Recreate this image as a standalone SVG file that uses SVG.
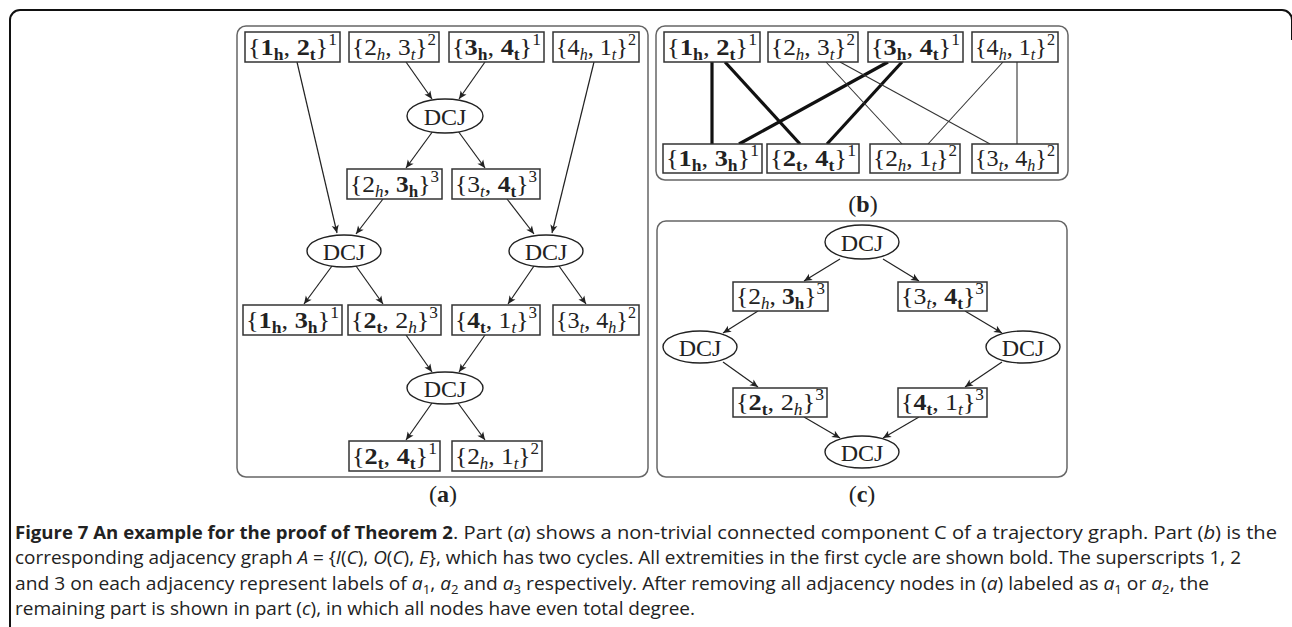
<svg xmlns="http://www.w3.org/2000/svg" width="1292" height="627" viewBox="0 0 1292 627">
<defs>
<style>
.frame{fill:none;stroke:#111;stroke-width:2}
.panel{fill:none;stroke:#666;stroke-width:1.5}
.box{fill:#fff;stroke:#333;stroke-width:1.5}
.ell{fill:#fff;stroke:#222;stroke-width:1.4}
.m{font-family:"Liberation Serif","DejaVu Serif",serif;font-size:24px;fill:#222}
.bd{font-weight:bold}
.sb{font-size:16px}
.si{font-size:16px;font-style:italic}
.sp{font-size:16px}
.e{stroke:#222;stroke-width:1.2;fill:none;marker-end:url(#arr)}
.thick{stroke:#111;stroke-width:3.2;fill:none}
.thin{stroke:#333;stroke-width:1.1;fill:none}
.cap{font-family:"Open Sans","Noto Sans","Liberation Sans",sans-serif;font-size:17.5px;fill:#222}
.lab{font-family:"Liberation Serif","DejaVu Serif",serif;font-size:24px;fill:#222}
</style>
<marker id="arr" markerUnits="userSpaceOnUse" markerWidth="12" markerHeight="10" refX="0" refY="0" viewBox="-10 -5 12 10" orient="auto">
<path d="M0,0 L-8,-3.6 L-6,0 L-8,3.6 Z" fill="#222"/>
</marker>
</defs>

<path class="frame" d="M10,627 V20 A10,10 0 0 1 20,10 H1282 A10,10 0 0 1 1292,20 V40"/>

<g id="panels">
<rect class="panel" x="237" y="26" width="411" height="451" rx="9"/>
<rect class="panel" x="656" y="26" width="412" height="154" rx="9"/>
<rect class="panel" x="657" y="221" width="410" height="256" rx="9"/>
<text class="lab" x="443" y="502" text-anchor="middle">(<tspan class="bd">a</tspan>)</text>
<text class="lab" x="863" y="212" text-anchor="middle">(<tspan class="bd">b</tspan>)</text>
<text class="lab" x="862" y="502" text-anchor="middle">(<tspan class="bd">c</tspan>)</text>
</g>

<g id="connectors">
<!-- panel a -->
<line class="e" x1="297" y1="62" x2="337" y2="233"/>
<line class="e" x1="406" y1="62" x2="432" y2="99"/>
<line class="e" x1="485" y1="62" x2="459" y2="99"/>
<line class="e" x1="594" y1="62" x2="552" y2="233"/>
<line class="e" x1="433" y1="131" x2="406" y2="168"/>
<line class="e" x1="458" y1="131" x2="485" y2="168"/>
<line class="e" x1="383" y1="199" x2="356" y2="234"/>
<line class="e" x1="507" y1="199" x2="534" y2="234"/>
<line class="e" x1="332" y1="266" x2="304" y2="304"/>
<line class="e" x1="356" y1="266" x2="383" y2="304"/>
<line class="e" x1="534" y1="266" x2="508" y2="304"/>
<line class="e" x1="559" y1="266" x2="586" y2="304"/>
<line class="e" x1="406" y1="335" x2="432" y2="372"/>
<line class="e" x1="485" y1="335" x2="459" y2="372"/>
<line class="e" x1="432" y1="403" x2="406" y2="440"/>
<line class="e" x1="458" y1="403" x2="485" y2="440"/>
<!-- panel b -->
<line class="thick" x1="712" y1="62" x2="712" y2="144"/>
<line class="thick" x1="725" y1="62" x2="800" y2="144"/>
<line class="thick" x1="888" y1="62" x2="739" y2="144"/>
<line class="thick" x1="902" y1="62" x2="827" y2="144"/>
<line class="thin" x1="826" y1="62" x2="902" y2="144"/>
<line class="thin" x1="840" y1="62" x2="990" y2="144"/>
<line class="thin" x1="1003" y1="62" x2="928" y2="144"/>
<line class="thin" x1="1017" y1="62" x2="1017" y2="144"/>
<!-- panel c -->
<line class="e" x1="840" y1="259" x2="804" y2="281"/>
<line class="e" x1="883" y1="259" x2="919" y2="281"/>
<line class="e" x1="758" y1="311" x2="723" y2="333"/>
<line class="e" x1="965" y1="311" x2="1002" y2="333"/>
<line class="e" x1="723" y1="362" x2="758" y2="387"/>
<line class="e" x1="1002" y1="362" x2="965" y2="387"/>
<line class="e" x1="804" y1="417" x2="840" y2="438"/>
<line class="e" x1="919" y1="417" x2="883" y2="438"/>
</g>

<!-- panel a nodes -->
<g id="a_1h2t"><rect class="box" x="245" y="32" width="95" height="30"/>
<text class="m" x="292.5" y="55" text-anchor="middle" textLength="89" lengthAdjust="spacingAndGlyphs">{<tspan class="bd">1</tspan><tspan class="sb bd" dy="5">h</tspan><tspan dy="-5">, </tspan><tspan class="bd">2</tspan><tspan class="sb bd" dy="5">t</tspan><tspan dy="-5">}</tspan><tspan class="sp" dy="-10">1</tspan></text></g>
<g id="a_2h3t"><rect class="box" x="349" y="32" width="90" height="30"/>
<text class="m" x="394" y="55" text-anchor="middle" textLength="84" lengthAdjust="spacingAndGlyphs">{2<tspan class="si" dy="5">h</tspan><tspan dy="-5">, 3</tspan><tspan class="si" dy="5">t</tspan><tspan dy="-5">}</tspan><tspan class="sp" dy="-10">2</tspan></text></g>
<g id="a_3h4t"><rect class="box" x="449" y="32" width="95" height="30"/>
<text class="m" x="496.5" y="55" text-anchor="middle" textLength="89" lengthAdjust="spacingAndGlyphs">{<tspan class="bd">3</tspan><tspan class="sb bd" dy="5">h</tspan><tspan dy="-5">, </tspan><tspan class="bd">4</tspan><tspan class="sb bd" dy="5">t</tspan><tspan dy="-5">}</tspan><tspan class="sp" dy="-10">1</tspan></text></g>
<g id="a_4h1t"><rect class="box" x="553" y="32" width="86" height="30"/>
<text class="m" x="596" y="55" text-anchor="middle" textLength="80" lengthAdjust="spacingAndGlyphs">{4<tspan class="si" dy="5">h</tspan><tspan dy="-5">, 1</tspan><tspan class="si" dy="5">t</tspan><tspan dy="-5">}</tspan><tspan class="sp" dy="-10">2</tspan></text></g>

<g id="a_dcj1"><ellipse class="ell" cx="445" cy="116" rx="38" ry="17"/><text class="m" x="445" y="124.5" text-anchor="middle">DCJ</text></g>

<g id="a_2h3h"><rect class="box" x="347" y="169" width="95" height="30"/>
<text class="m" x="394.5" y="192" text-anchor="middle" textLength="89" lengthAdjust="spacingAndGlyphs">{2<tspan class="si" dy="5">h</tspan><tspan dy="-5">, </tspan><tspan class="bd">3</tspan><tspan class="sb bd" dy="5">h</tspan><tspan dy="-5">}</tspan><tspan class="sp" dy="-10">3</tspan></text></g>
<g id="a_3t4t"><rect class="box" x="452" y="169" width="88" height="30"/>
<text class="m" x="496" y="192" text-anchor="middle" textLength="82" lengthAdjust="spacingAndGlyphs">{3<tspan class="si" dy="5">t</tspan><tspan dy="-5">, </tspan><tspan class="bd">4</tspan><tspan class="sb bd" dy="5">t</tspan><tspan dy="-5">}</tspan><tspan class="sp" dy="-10">3</tspan></text></g>

<g id="a_dcjL"><ellipse class="ell" cx="344" cy="251" rx="37" ry="16"/><text class="m" x="344" y="259.5" text-anchor="middle">DCJ</text></g>
<g id="a_dcjR"><ellipse class="ell" cx="546" cy="251" rx="37" ry="16"/><text class="m" x="546" y="259.5" text-anchor="middle">DCJ</text></g>

<g id="a_1h3h"><rect class="box" x="243" y="305" width="99" height="30"/>
<text class="m" x="292.5" y="328" text-anchor="middle" textLength="93" lengthAdjust="spacingAndGlyphs">{<tspan class="bd">1</tspan><tspan class="sb bd" dy="5">h</tspan><tspan dy="-5">, </tspan><tspan class="bd">3</tspan><tspan class="sb bd" dy="5">h</tspan><tspan dy="-5">}</tspan><tspan class="sp" dy="-10">1</tspan></text></g>
<g id="a_2t2h"><rect class="box" x="348" y="305" width="93" height="30"/>
<text class="m" x="394.5" y="328" text-anchor="middle" textLength="87" lengthAdjust="spacingAndGlyphs">{<tspan class="bd">2</tspan><tspan class="sb bd" dy="5">t</tspan><tspan dy="-5">, 2</tspan><tspan class="si" dy="5">h</tspan><tspan dy="-5">}</tspan><tspan class="sp" dy="-10">3</tspan></text></g>
<g id="a_4t1t"><rect class="box" x="452" y="305" width="88" height="30"/>
<text class="m" x="496" y="328" text-anchor="middle" textLength="82" lengthAdjust="spacingAndGlyphs">{<tspan class="bd">4</tspan><tspan class="sb bd" dy="5">t</tspan><tspan dy="-5">, 1</tspan><tspan class="si" dy="5">t</tspan><tspan dy="-5">}</tspan><tspan class="sp" dy="-10">3</tspan></text></g>
<g id="a_3t4h"><rect class="box" x="553" y="305" width="86" height="30"/>
<text class="m" x="596" y="328" text-anchor="middle" textLength="80" lengthAdjust="spacingAndGlyphs">{3<tspan class="si" dy="5">t</tspan><tspan dy="-5">, 4</tspan><tspan class="si" dy="5">h</tspan><tspan dy="-5">}</tspan><tspan class="sp" dy="-10">2</tspan></text></g>

<g id="a_dcjB"><ellipse class="ell" cx="445" cy="388" rx="38" ry="16"/><text class="m" x="445" y="396.5" text-anchor="middle">DCJ</text></g>

<g id="a_2t4t"><rect class="box" x="349" y="441" width="91" height="30"/>
<text class="m" x="394.5" y="464" text-anchor="middle" textLength="85" lengthAdjust="spacingAndGlyphs">{<tspan class="bd">2</tspan><tspan class="sb bd" dy="5">t</tspan><tspan dy="-5">, </tspan><tspan class="bd">4</tspan><tspan class="sb bd" dy="5">t</tspan><tspan dy="-5">}</tspan><tspan class="sp" dy="-10">1</tspan></text></g>
<g id="a_2h1t"><rect class="box" x="452" y="441" width="90" height="30"/>
<text class="m" x="497" y="464" text-anchor="middle" textLength="84" lengthAdjust="spacingAndGlyphs">{2<tspan class="si" dy="5">h</tspan><tspan dy="-5">, 1</tspan><tspan class="si" dy="5">t</tspan><tspan dy="-5">}</tspan><tspan class="sp" dy="-10">2</tspan></text></g>

<!-- panel b nodes -->
<g id="b_1h2t"><rect class="box" x="664" y="32" width="96" height="30"/>
<text class="m" x="712" y="55" text-anchor="middle" textLength="90" lengthAdjust="spacingAndGlyphs">{<tspan class="bd">1</tspan><tspan class="sb bd" dy="5">h</tspan><tspan dy="-5">, </tspan><tspan class="bd">2</tspan><tspan class="sb bd" dy="5">t</tspan><tspan dy="-5">}</tspan><tspan class="sp" dy="-10">1</tspan></text></g>
<g id="b_2h3t"><rect class="box" x="768" y="32" width="90" height="30"/>
<text class="m" x="813" y="55" text-anchor="middle" textLength="84" lengthAdjust="spacingAndGlyphs">{2<tspan class="si" dy="5">h</tspan><tspan dy="-5">, 3</tspan><tspan class="si" dy="5">t</tspan><tspan dy="-5">}</tspan><tspan class="sp" dy="-10">2</tspan></text></g>
<g id="b_3h4t"><rect class="box" x="868" y="32" width="95" height="30"/>
<text class="m" x="915.5" y="55" text-anchor="middle" textLength="89" lengthAdjust="spacingAndGlyphs">{<tspan class="bd">3</tspan><tspan class="sb bd" dy="5">h</tspan><tspan dy="-5">, </tspan><tspan class="bd">4</tspan><tspan class="sb bd" dy="5">t</tspan><tspan dy="-5">}</tspan><tspan class="sp" dy="-10">1</tspan></text></g>
<g id="b_4h1t"><rect class="box" x="972" y="32" width="86" height="30"/>
<text class="m" x="1015" y="55" text-anchor="middle" textLength="80" lengthAdjust="spacingAndGlyphs">{4<tspan class="si" dy="5">h</tspan><tspan dy="-5">, 1</tspan><tspan class="si" dy="5">t</tspan><tspan dy="-5">}</tspan><tspan class="sp" dy="-10">2</tspan></text></g>
<g id="b_1h3h"><rect class="box" x="663" y="144" width="99" height="29"/>
<text class="m" x="712.5" y="166" text-anchor="middle" textLength="93" lengthAdjust="spacingAndGlyphs">{<tspan class="bd">1</tspan><tspan class="sb bd" dy="5">h</tspan><tspan dy="-5">, </tspan><tspan class="bd">3</tspan><tspan class="sb bd" dy="5">h</tspan><tspan dy="-5">}</tspan><tspan class="sp" dy="-10">1</tspan></text></g>
<g id="b_2t4t"><rect class="box" x="767" y="144" width="92" height="29"/>
<text class="m" x="813" y="166" text-anchor="middle" textLength="86" lengthAdjust="spacingAndGlyphs">{<tspan class="bd">2</tspan><tspan class="sb bd" dy="5">t</tspan><tspan dy="-5">, </tspan><tspan class="bd">4</tspan><tspan class="sb bd" dy="5">t</tspan><tspan dy="-5">}</tspan><tspan class="sp" dy="-10">1</tspan></text></g>
<g id="b_2h1t"><rect class="box" x="870" y="144" width="90" height="29"/>
<text class="m" x="915" y="166" text-anchor="middle" textLength="84" lengthAdjust="spacingAndGlyphs">{2<tspan class="si" dy="5">h</tspan><tspan dy="-5">, 1</tspan><tspan class="si" dy="5">t</tspan><tspan dy="-5">}</tspan><tspan class="sp" dy="-10">2</tspan></text></g>
<g id="b_3t4h"><rect class="box" x="972" y="144" width="86" height="29"/>
<text class="m" x="1015" y="166" text-anchor="middle" textLength="80" lengthAdjust="spacingAndGlyphs">{3<tspan class="si" dy="5">t</tspan><tspan dy="-5">, 4</tspan><tspan class="si" dy="5">h</tspan><tspan dy="-5">}</tspan><tspan class="sp" dy="-10">2</tspan></text></g>

<!-- panel c nodes -->
<g id="c_dcjT"><ellipse class="ell" cx="862" cy="242" rx="37" ry="17"/><text class="m" x="862" y="250.5" text-anchor="middle">DCJ</text></g>
<g id="c_2h3h"><rect class="box" x="733" y="282" width="95" height="29"/>
<text class="m" x="780.5" y="304" text-anchor="middle" textLength="89" lengthAdjust="spacingAndGlyphs">{2<tspan class="si" dy="5">h</tspan><tspan dy="-5">, </tspan><tspan class="bd">3</tspan><tspan class="sb bd" dy="5">h</tspan><tspan dy="-5">}</tspan><tspan class="sp" dy="-10">3</tspan></text></g>
<g id="c_3t4t"><rect class="box" x="898" y="282" width="89" height="29"/>
<text class="m" x="942.5" y="304" text-anchor="middle" textLength="83" lengthAdjust="spacingAndGlyphs">{3<tspan class="si" dy="5">t</tspan><tspan dy="-5">, </tspan><tspan class="bd">4</tspan><tspan class="sb bd" dy="5">t</tspan><tspan dy="-5">}</tspan><tspan class="sp" dy="-10">3</tspan></text></g>
<g id="c_dcjL"><ellipse class="ell" cx="700" cy="347" rx="37" ry="16"/><text class="m" x="700" y="355.5" text-anchor="middle">DCJ</text></g>
<g id="c_dcjR"><ellipse class="ell" cx="1023" cy="347" rx="37" ry="16"/><text class="m" x="1023" y="355.5" text-anchor="middle">DCJ</text></g>
<g id="c_2t2h"><rect class="box" x="733" y="388" width="94" height="29"/>
<text class="m" x="780" y="410" text-anchor="middle" textLength="88" lengthAdjust="spacingAndGlyphs">{<tspan class="bd">2</tspan><tspan class="sb bd" dy="5">t</tspan><tspan dy="-5">, 2</tspan><tspan class="si" dy="5">h</tspan><tspan dy="-5">}</tspan><tspan class="sp" dy="-10">3</tspan></text></g>
<g id="c_4t1t"><rect class="box" x="898" y="388" width="89" height="29"/>
<text class="m" x="942.5" y="410" text-anchor="middle" textLength="83" lengthAdjust="spacingAndGlyphs">{<tspan class="bd">4</tspan><tspan class="sb bd" dy="5">t</tspan><tspan dy="-5">, 1</tspan><tspan class="si" dy="5">t</tspan><tspan dy="-5">}</tspan><tspan class="sp" dy="-10">3</tspan></text></g>
<g id="c_dcjB"><ellipse class="ell" cx="862" cy="452" rx="37" ry="16"/><text class="m" x="862" y="460.5" text-anchor="middle">DCJ</text></g>

<g id="caption">
<text class="cap" x="15" y="539" font-weight="bold" textLength="438" lengthAdjust="spacingAndGlyphs">Figure 7 An example for the proof of Theorem 2</text>
<text class="cap" x="453" y="539" textLength="824" lengthAdjust="spacingAndGlyphs">. Part (<tspan font-style="italic">a</tspan>) shows a non-trivial connected component C of a trajectory graph. Part (<tspan font-style="italic">b</tspan>) is the</text>
<text class="cap" x="15" y="564" textLength="1226" lengthAdjust="spacingAndGlyphs">corresponding adjacency graph <tspan font-style="italic">A</tspan> = {<tspan font-style="italic">I</tspan>(<tspan font-style="italic">C</tspan>), <tspan font-style="italic">O</tspan>(<tspan font-style="italic">C</tspan>), <tspan font-style="italic">E</tspan>}, which has two cycles. All extremities in the first cycle are shown bold. The superscripts 1, 2</text>
<text class="cap" x="15" y="590" textLength="1194" lengthAdjust="spacingAndGlyphs">and 3 on each adjacency represent labels of <tspan font-style="italic">a</tspan><tspan font-size="12" dy="4">1</tspan><tspan dy="-4">, </tspan><tspan font-style="italic">a</tspan><tspan font-size="12" dy="4">2</tspan><tspan dy="-4"> and </tspan><tspan font-style="italic">a</tspan><tspan font-size="12" dy="4">3</tspan><tspan dy="-4"> respectively. After removing all adjacency nodes in (</tspan><tspan font-style="italic">a</tspan>) labeled as <tspan font-style="italic">a</tspan><tspan font-size="12" dy="4">1</tspan><tspan dy="-4"> or </tspan><tspan font-style="italic">a</tspan><tspan font-size="12" dy="4">2</tspan><tspan dy="-4">, the</tspan></text>
<text class="cap" x="15" y="615" textLength="680" lengthAdjust="spacingAndGlyphs">remaining part is shown in part (<tspan font-style="italic">c</tspan>), in which all nodes have even total degree.</text>
</g>
</svg>
